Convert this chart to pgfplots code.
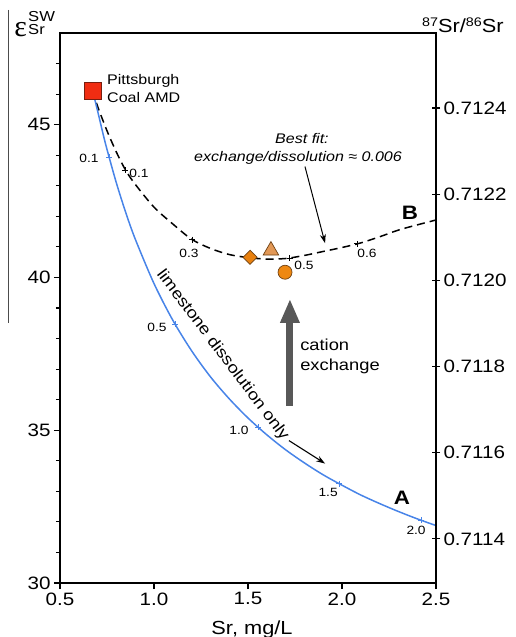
\documentclass[border=0pt]{standalone}
\usepackage{fontspec}
\setmainfont{Liberation Sans}[FakeStretch=1.15]
\newfontfamily\epsfont{Liberation Serif}
\usepackage{pgfplots}
\pgfplotsset{compat=1.18}
\usetikzlibrary{arrows.meta}
\definecolor{curveA}{RGB}{72,132,232}
\definecolor{sqred}{RGB}{240,45,18}
\definecolor{sqedge}{RGB}{120,30,15}
\definecolor{diaor}{RGB}{232,128,14}
\definecolor{triang}{RGB}{226,152,86}
\definecolor{circor}{RGB}{238,136,18}
\definecolor{mkedge}{RGB}{110,65,20}
\definecolor{arrgray}{RGB}{88,88,88}
\begin{document}
\begin{tikzpicture}
\useasboundingbox (-60bp,-54bp) rectangle (456bp,583bp);
\begin{axis}[
  at={(0,0)}, anchor=south west,
  scale only axis, width=376bp, height=550bp,
  xmin=0.5, xmax=2.5, ymin=30, ymax=48,
  xtick={0.5,1,1.5,2,2.5},
  ytick={30,35,40,45},
  minor ytick={31,32,33,34,36,37,38,39,41,42,43,44,46,47},
  xtick pos=bottom, ytick pos=left,
  tick align=outside,
  major tick length=6bp, minor tick length=4bp,
  axis line style={line width=1.4bp},
  every tick/.style={black, line width=1.1bp},
  /pgf/number format/assume math mode=true,
  ticklabel style={font=\fontsize{18}{20}\selectfont},
  xticklabel style={/pgf/number format/.cd, fixed, fixed zerofill, precision=1},
]
% curve B (dashed)
\addplot[black, line width=1.5bp, dash pattern=on 8bp off 5bp, smooth] coordinates {
(0.673,46.12) (0.70,45.6) (0.75,44.8) (0.80,44.1) (0.85,43.5) (0.90,43.05)
(1.00,42.3) (1.10,41.75) (1.20,41.25) (1.30,40.95) (1.40,40.75) (1.50,40.65)
(1.60,40.6) (1.70,40.62) (1.80,40.72) (1.90,40.85) (2.00,40.98) (2.10,41.13)
(2.20,41.33) (2.30,41.55) (2.40,41.72) (2.50,41.88)};
% curve A (limestone dissolution)
\addplot[curveA, line width=1.5bp, smooth] coordinates {
(0.673,46.12) (0.70,45.45) (0.725,44.80) (0.75,44.19) (0.80,43.09) (0.85,42.12)
(0.90,41.26) (1.00,39.80) (1.10,38.60) (1.20,37.60) (1.30,36.75) (1.40,36.03)
(1.50,35.40) (1.60,34.85) (1.70,34.36) (1.80,33.93) (1.90,33.54) (2.00,33.20)
(2.10,32.88) (2.20,32.60) (2.30,32.34) (2.40,32.10) (2.50,31.88)};
% tick marks along curves
\addplot[only marks, mark=+, mark size=3bp, curveA, mark options={line width=0.9bp}] coordinates {
(0.761,43.94) (1.112,38.47) (1.553,35.10) (1.984,33.25) (2.42,32.05)};
\addplot[only marks, mark=+, mark size=3bp, black, mark options={line width=0.9bp}] coordinates {
(0.846,43.5) (1.202,41.24) (1.723,40.63) (2.08,41.10)};
% samples
\addplot[only marks, mark=square*, mark size=5bp, mark options={rotate=45, fill=diaor, draw=mkedge, line width=0.7bp}] coordinates {(1.511,40.66)};
\addplot[only marks, mark=triangle*, mark size=9bp, mark options={fill=triang, draw=mkedge, line width=0.7bp}] coordinates {(1.622,40.88)};
\addplot[only marks, mark=*, mark size=7bp, mark options={fill=circor, draw=mkedge, line width=0.7bp}] coordinates {(1.697,40.17)};
\addplot[only marks, mark=square*, mark size=8.5bp, mark options={fill=sqred, draw=sqedge, line width=0.8bp}] coordinates {(0.673,46.12)};
% labels on curves
\begin{scope}[every node/.style={font=\fontsize{12}{14}\selectfont, inner sep=0pt}]
\node at (axis cs:0.654,43.9) {0.1};
\node at (axis cs:1.016,38.38) {0.5};
\node at (axis cs:1.452,34.99) {1.0};
\node at (axis cs:1.926,32.97) {1.5};
\node at (axis cs:2.394,31.73) {2.0};
\node at (axis cs:0.920,43.40) {0.1};
\node at (axis cs:1.186,40.79) {0.3};
\node at (axis cs:1.798,40.40) {0.5};
\node at (axis cs:2.133,40.79) {0.6};
\end{scope}
\node[font=\fontsize{19.5}{20}\selectfont\bfseries, inner sep=0pt] at (axis cs:2.319,32.80) {A};
\node[font=\fontsize{19.5}{20}\selectfont\bfseries, inner sep=0pt] at (axis cs:2.362,42.10) {B};
\node[anchor=base west, inner sep=0pt, font=\fontsize{14}{16}\selectfont] at (axis cs:0.75,46.30) {Pittsburgh};
\node[anchor=base west, inner sep=0pt, font=\fontsize{14}{16}\selectfont] at (axis cs:0.75,45.73) {Coal AMD};
\node[anchor=base, inner sep=0pt, font=\fontsize{14}{16}\selectfont\itshape] at (axis cs:1.787,44.38) {Best fit:};
\node[anchor=base, inner sep=0pt, font=\fontsize{14}{16}\selectfont\itshape] at (axis cs:1.766,43.79) {exchange/dissolution ≈ 0.006};
\node[anchor=base west, inner sep=0pt, font=\fontsize{16}{18}\selectfont] at (axis cs:1.777,37.60) {cation};
\node[anchor=base west, inner sep=0pt, font=\fontsize{16}{18}\selectfont] at (axis cs:1.777,36.95) {exchange};
\node[rotate=-53, inner sep=0pt, font=\fontsize{16}{18}\selectfont] at (axis cs:1.365,37.45) {limestone dissolution only};
\draw[arrgray, line width=7bp, -{Triangle[width=18bp,length=24bp]}] (axis cs:1.723,35.8) -- (axis cs:1.723,39.3);
\draw[black, line width=1bp, -{Stealth[length=9bp,width=6bp]}] (axis cs:1.803,43.63) -- (axis cs:1.910,41.12);
\draw[black, line width=1.1bp, -{Stealth[length=9bp,width=6bp]}] (axis cs:1.718,34.66) -- (axis cs:1.910,33.91);
\end{axis}
\begin{axis}[
  at={(0,0)}, anchor=south west,
  scale only axis, width=376bp, height=550bp,
  xmin=0.5, xmax=2.5, ymin=30, ymax=48,
  axis x line=none, axis y line*=right,
  ytick={31.445,34.265,37.086,39.906,42.726,45.546},
  yticklabels={0.7114,0.7116,0.7118,0.7120,0.7122,0.7124},
  tick align=center, major tick length=8bp,
  axis line style={line width=1.4bp, -},
  every tick/.style={black, line width=1.1bp},
  ticklabel style={font=\fontsize{18}{20}\selectfont},
]
\addplot[draw=none] coordinates {(1,40)};
\end{axis}
% axis titles
\node[anchor=base, inner sep=0pt, font=\fontsize{19}{20}\selectfont] at (192bp,-51bp) {Sr, mg/L};
\node[anchor=base west, inner sep=0pt, font=\fontsize{19}{20}\selectfont] at (362bp,550bp)
  {\raisebox{6.5bp}{\fontsize{12.5}{13}\selectfont 87}Sr/\raisebox{6.5bp}{\fontsize{12.5}{13}\selectfont 86}Sr};
\node[anchor=east, inner sep=0pt, font=\fontsize{30}{32}\selectfont\epsfont] at (-33bp,553bp) {ε};
\node[anchor=west, inner sep=0pt, font=\fontsize{14.5}{16}\selectfont] at (-32bp,566bp) {SW};
\node[anchor=west, inner sep=0pt, font=\fontsize{14.5}{16}\selectfont] at (-32bp,553bp) {Sr};
\draw[black!70, line width=1bp] (-51bp,573bp) -- (-51bp,260bp);
\end{tikzpicture}
\end{document}
